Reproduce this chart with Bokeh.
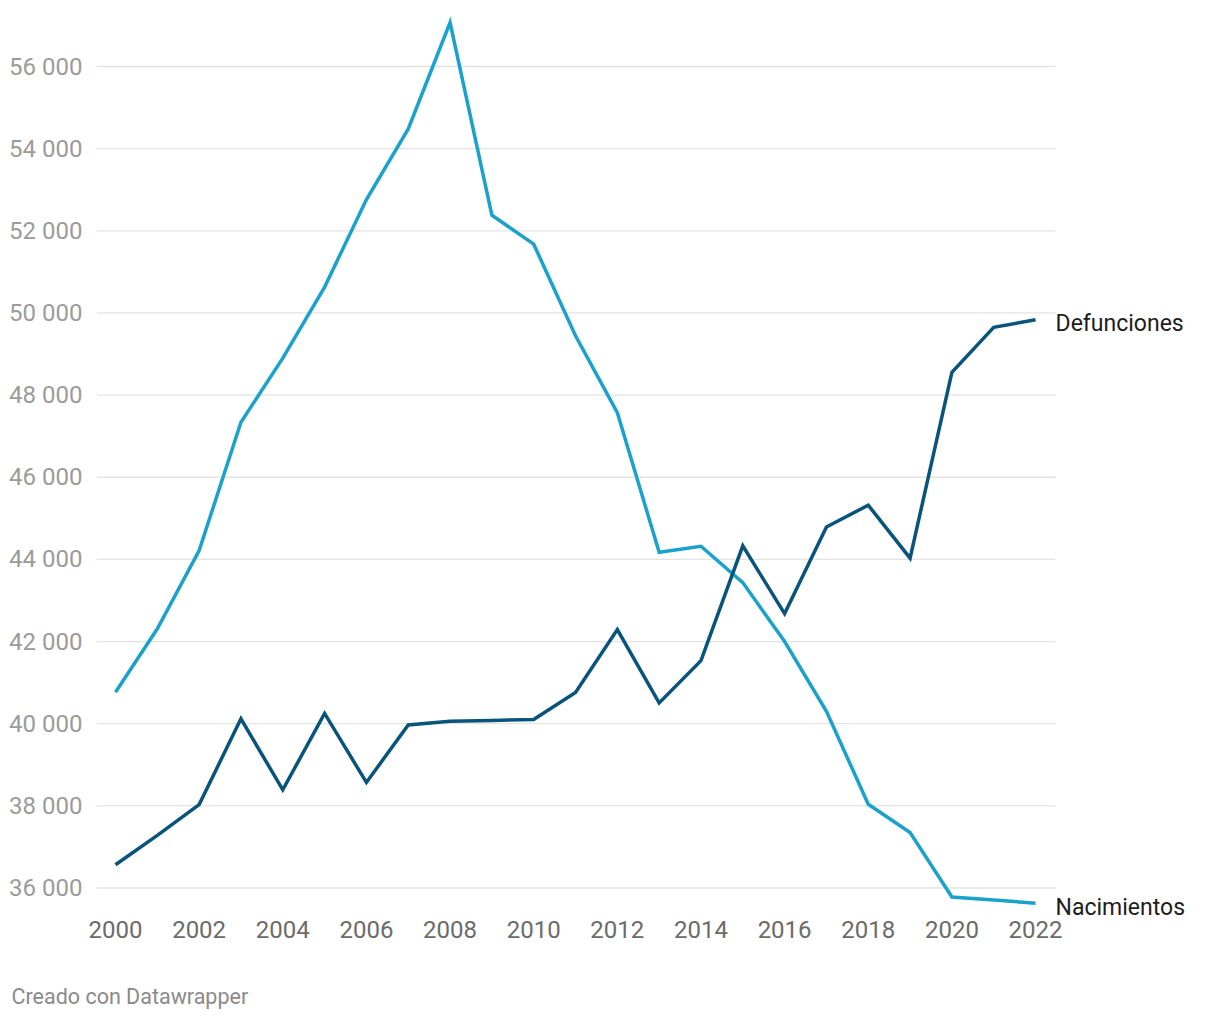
from bokeh.plotting import figure
from bokeh.models import FixedTicker, Title
from bokeh.core.properties import value
from bokeh.embed import file_html
from bokeh.resources import INLINE

years = list(range(2000, 2023))
nacimientos = [40765, 42310, 44215, 47340, 48900, 50630, 52760, 54480, 57070, 52380,
               51675, 49445, 47570, 44175, 44320, 43435, 42000, 40300, 38040, 37350,
               35780, 35710, 35630]
defunciones = [36565, 37280, 38030, 40120, 38390, 40250, 38570, 39970, 40060, 40080,
               40105, 40760, 42290, 40505, 41535, 44330, 42680, 44790, 45320, 44030,
               48555, 49650, 49835]
y_ticks = [36000, 38000, 40000, 42000, 44000, 46000, 48000, 50000, 52000, 54000, 56000]
x_ticks = list(range(2000, 2023, 2))
series_names = ["Nacimientos", "Defunciones"]
footer = "Creado con Datawrapper"

C_LIGHT = "#1aa2cd"
C_DARK = "#08547c"
FONT = "Roboto"

X0, GRID_END, X1 = 1999.546, 2022.478, 2026.064
Y0, Y1 = 35160, 57315
W, H = 1210, 1020
p = figure(width=W, height=H, output_backend="svg", toolbar_location=None,
           x_range=(X0, X1), y_range=(Y0, Y1),
           min_border_left=96, min_border_right=5, min_border_top=12, min_border_bottom=98)
p.outline_line_color = None
p.background_fill_color = "white"
p.border_fill_color = "white"

p.xgrid.grid_line_color = None
p.ygrid.grid_line_color = None
# horizontal grid lines limited to the data area (labels sit to their right)
p.segment(x0=[X0] * len(y_ticks), x1=[GRID_END] * len(y_ticks), y0=y_ticks, y1=y_ticks,
          line_color="#e3e3e3", line_width=1.3)

p.yaxis.ticker = FixedTicker(ticks=y_ticks)
p.yaxis.major_label_overrides = {t: f"{t:,}".replace(",", " ") for t in y_ticks}
p.xaxis.ticker = FixedTicker(ticks=x_ticks)
for ax in (p.xaxis, p.yaxis):
    ax.axis_line_color = None
    ax.major_tick_line_color = None
    ax.minor_tick_line_color = None
    ax.major_tick_out = 0
    ax.major_tick_in = 0
    ax.minor_tick_out = 0
    ax.major_label_text_font = FONT
    ax.major_label_text_font_size = "24px"
p.yaxis.major_label_text_color = "#9b9b9b"
p.xaxis.major_label_text_color = "#6b6b6b"
p.yaxis.major_label_standoff = 14
p.xaxis.major_label_standoff = -2

p.line(years, nacimientos, line_color=C_LIGHT, line_width=3.5, line_join="miter")
p.line(years, defunciones, line_color=C_DARK, line_width=3.5, line_join="miter")

p.text(x=[years[-1], years[-1]], y=[defunciones[-1], nacimientos[-1]],
       text=[series_names[1], series_names[0]], x_offset=20, y_offset=4,
       text_baseline="middle", text_font=value(FONT), text_font_size="23px",
       text_color="#1d1d1d")

# footer (leading blank line provides the gap below the x-axis labels)
p.add_layout(Title(text="\n" + footer, align="left", offset=-85, standoff=0,
                   text_line_height=1.63,
                   text_font=FONT, text_font_size="21.5px", text_font_style="normal",
                   text_color="#8a8a8a"), "below")

open("out.html", "w").write(file_html(p, INLINE))
